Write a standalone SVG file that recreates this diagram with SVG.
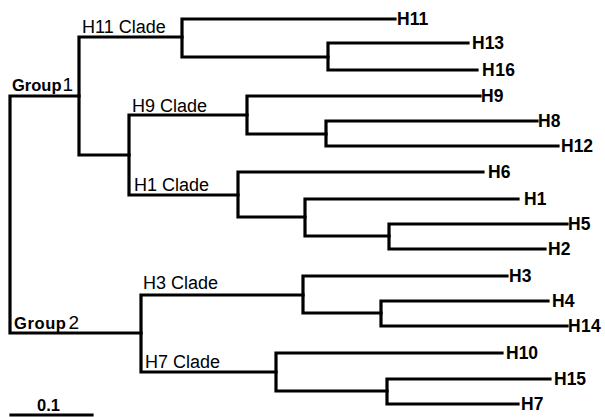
<svg xmlns="http://www.w3.org/2000/svg" width="605" height="417" viewBox="0 0 605 417">
<style>
.br{fill:none;stroke:#000;stroke-width:3.2;stroke-linecap:square;stroke-linejoin:miter}
.leaf{font-family:"Liberation Sans",Arial,sans-serif;font-weight:bold;font-size:17.5px;fill:#000}
.clade{font-family:"Liberation Sans",Arial,sans-serif;font-size:18px;fill:#000}
.grp{font-family:"Liberation Sans",Arial,sans-serif;font-weight:bold;font-size:16.5px;fill:#000}
.num{font-family:"Liberation Sans",Arial,sans-serif;font-size:19px;fill:#000}
</style>
<rect width="605" height="417" fill="#fff"/>
<g id="connectors">
<path class="br" d="M79,96 H10 V333 H141"/>
<path class="br" d="M182,37 H79 V155 H129"/>
<path class="br" d="M395,19 H182 V57 H328"/>
<path class="br" d="M468,43 H328 V70 H477"/>
<path class="br" d="M247,115 H129 V195 H238"/>
<path class="br" d="M480,96 H247 V134 H326"/>
<path class="br" d="M537,121 H326 V146 H558"/>
<path class="br" d="M483,172 H238 V217 H305"/>
<path class="br" d="M518,199 H305 V236 H389"/>
<path class="br" d="M567,224 H389 V249 H545"/>
<path class="br" d="M303,295 H141 V372 H276"/>
<path class="br" d="M507,276 H303 V313 H381"/>
<path class="br" d="M548,301 H381 V326 H567"/>
<path class="br" d="M502,353 H276 V391 H387"/>
<path class="br" d="M550,379 H387 V404 H518"/>
<path class="br" d="M11,415 H92"/>
</g>
<g id="node-H11"><text class="leaf" x="397" y="25">H11</text></g>
<g id="node-H13"><text class="leaf" x="472" y="49">H13</text></g>
<g id="node-H16"><text class="leaf" x="482" y="76" letter-spacing="0.5">H16</text></g>
<g id="node-H9"><text class="leaf" x="481" y="102">H9</text></g>
<g id="node-H8"><text class="leaf" x="538" y="127">H8</text></g>
<g id="node-H12"><text class="leaf" x="561" y="152">H12</text></g>
<g id="node-H6"><text class="leaf" x="488" y="178">H6</text></g>
<g id="node-H1"><text class="leaf" x="524" y="205">H1</text></g>
<g id="node-H5"><text class="leaf" x="568" y="230">H5</text></g>
<g id="node-H2"><text class="leaf" x="548" y="255">H2</text></g>
<g id="node-H3"><text class="leaf" x="509" y="282">H3</text></g>
<g id="node-H4"><text class="leaf" x="552" y="307">H4</text></g>
<g id="node-H14"><text class="leaf" x="568" y="332" letter-spacing="0.3">H14</text></g>
<g id="node-H10"><text class="leaf" x="506" y="359">H10</text></g>
<g id="node-H15"><text class="leaf" x="554" y="385">H15</text></g>
<g id="node-H7"><text class="leaf" x="521" y="410">H7</text></g>
<g id="clade-H11"><text class="clade" x="82" y="33">H11 Clade</text></g>
<g id="clade-H9"><text class="clade" x="132" y="112">H9 Clade</text></g>
<g id="clade-H1"><text class="clade" x="134" y="191">H1 Clade</text></g>
<g id="clade-H3"><text class="clade" x="143" y="289">H3 Clade</text></g>
<g id="clade-H7"><text class="clade" x="145" y="368">H7 Clade</text></g>
<g id="group1"><text x="12" y="91"><tspan class="grp">Group</tspan><tspan class="num" dx="1">1</tspan></text></g>
<g id="group2"><text x="14" y="329"><tspan class="grp" letter-spacing="0.6">Group</tspan><tspan class="num" font-size="20px" dx="2">2</tspan></text></g>
<g id="scale"><text class="grp" x="37" y="411" font-size="17px">0.1</text></g>
</svg>
